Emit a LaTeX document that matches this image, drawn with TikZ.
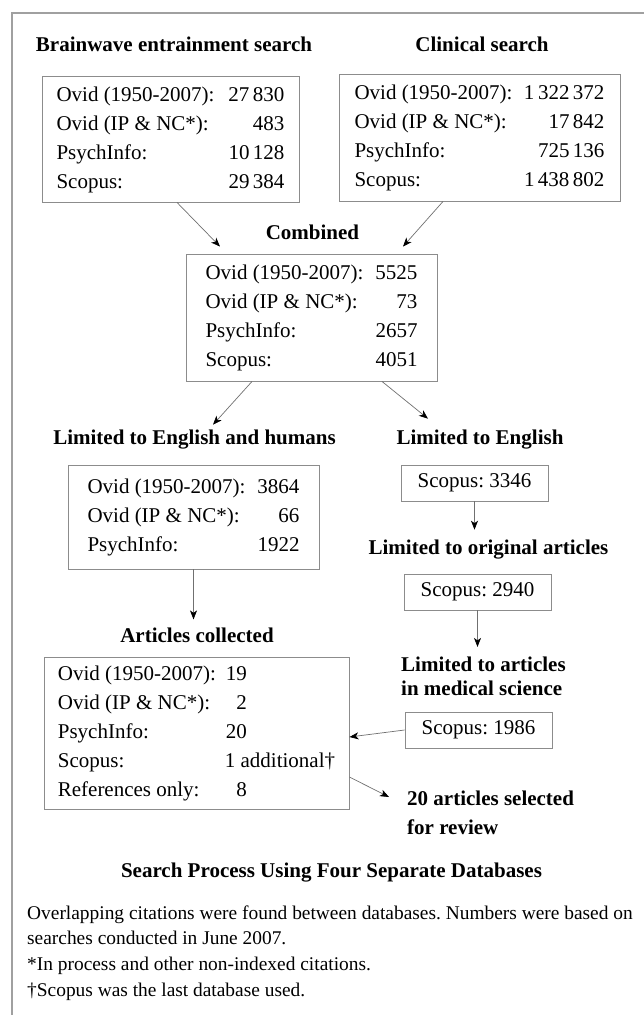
\documentclass[tikz,border=0pt]{standalone}
\usepackage{fontspec}
\setmainfont{Liberation Serif}
\usetikzlibrary{arrows.meta}
\frenchspacing

\begin{document}
\begin{tikzpicture}[x=1pt,y=-1pt,
  dbbox/.style={draw=boxgray,line width=0.9pt,inner sep=0pt,font=\fontsize{21}{29}\selectfont},
  head/.style={font=\fontsize{21}{29}\selectfont\bfseries,inner sep=2pt},
  arr/.style={draw=linegray,line width=0.7pt,-{Stealth[length=9pt,width=7pt,inset=2.5pt,color=black]}}]
\definecolor{boxgray}{HTML}{8C8C8C}
\definecolor{linegray}{HTML}{707070}
\definecolor{framegray}{HTML}{A0A0A0}
\useasboundingbox (0,0) rectangle (644,1015);
\draw[framegray,line width=1.2pt] (12,1015) -- (12,13) -- (644,13);

\node[head] (bwh) at (174,44) {Brainwave entrainment search};
\node[head] (clh) at (482,44) {Clinical search};
\node[dbbox,minimum width=257,minimum height=126] (bw) at (170.5,139)
  {\begin{tabular*}{228pt}{@{}l@{\extracolsep{\fill}}r@{}}
   Ovid (1950-2007): & 27\,830\\ Ovid (IP \& NC*): & 483\\
   PsychInfo: & 10\,128\\ Scopus: & 29\,384
   \end{tabular*}};
\node[dbbox,minimum width=281,minimum height=127] (cl) at (479.5,137.5)
  {\begin{tabular*}{250pt}{@{}l@{\extracolsep{\fill}}r@{}}
   Ovid (1950-2007): & 1\,322\,372\\ Ovid (IP \& NC*): & 17\,842\\
   PsychInfo: & 725\,136\\ Scopus: & 1\,438\,802
   \end{tabular*}};

\node[head] (cbh) at (312.5,232) {Combined};
\node[dbbox,minimum width=251,minimum height=127] (comb) at (311.5,317.5)
  {\begin{tabular*}{212pt}{@{}l@{\extracolsep{\fill}}r@{}}
   Ovid (1950-2007): & 5525\\ Ovid (IP \& NC*): & 73\\
   PsychInfo: & 2657\\ Scopus: & 4051
   \end{tabular*}\hspace{11pt}};

\node[head] (eh) at (194.5,440) {Limited to English and humans};
\node[head] (le) at (480,440) {Limited to English};
\node[dbbox,minimum width=251,minimum height=104] (lh) at (193.5,517)
  {\begin{tabular*}{212pt}{@{}l@{\extracolsep{\fill}}r@{}}
   Ovid (1950-2007): & 3864\\ Ovid (IP \& NC*): & 66\\
   PsychInfo: & 1922
   \end{tabular*}\hspace{15pt}};

\foreach \nm/\val/\x/\y in {s3346/3346/474.5/483,s2940/2940/477.5/592,s1986/1986/478.5/730}
  {\node[dbbox,minimum width=147,minimum height=36] (\nm) at (\x,\y) {Scopus: \val};}

\node[head] (lo) at (488.5,550) {Limited to original articles};
\node[head] (ac) at (197,635) {Articles collected};
\node[head,anchor=west,align=left,font=\fontsize{21}{24}\selectfont\bfseries] (lm) at (399,676.5)
  {Limited to articles\\in medical science};
\node[dbbox,minimum width=305,minimum height=152] (col) at (196.5,733)
  {\begin{tabular}{@{}l@{\hspace{9pt}}l@{}}
   Ovid (1950-2007): & \makebox[22pt][r]{19}\\
   Ovid (IP \& NC*): & \makebox[22pt][r]{2}\\
   PsychInfo: & \makebox[22pt][r]{20}\\
   Scopus: & 1 additional\textdagger\\
   References only: & \makebox[22pt][r]{8}
   \end{tabular}};
\node[head,anchor=west,align=left] (ar) at (405,813) {20 articles selected\\for review};

\node[head] (sp) at (331.5,873) {Search Process Using Four Separate Databases};
\node[anchor=west,align=left,inner sep=2pt,font=\fontsize{19.4}{25.7}\selectfont] (nt) at (25,953)
  {Overlapping citations were found between databases. Numbers were based on\\
   searches conducted in June 2007.\\
   *In process and other non-indexed citations.\\
   \textdagger Scopus was the last database used.};

\draw[arr] ([xshift=6.5pt]bw.south) -- ([xshift=-91.5pt,yshift=7pt]comb.north);
\draw[arr] ([xshift=-36.5pt]cl.south) -- ([xshift=91.5pt,yshift=7pt]comb.north);
\draw[arr] ([xshift=-59.5pt]comb.south) -- ([xshift=18.5pt,yshift=3.5pt]eh.north);
\draw[arr] ([xshift=70.5pt]comb.south) -- ([xshift=-52pt,yshift=9.5pt]le.north);
\draw[arr] (s3346.south) -- ([yshift=8.5pt]s3346.south |- lo.north);
\draw[arr] (s2940.south) -- ([yshift=8pt]s2940.south |- lm.north);
\draw[arr] (lh.south) -- ([yshift=6pt]lh.south |- ac.north);
\draw[arr] (s1986.west) -- ([yshift=-4pt]col.east);
\draw[arr] ([yshift=-44pt]col.east) -- ([xshift=-16pt,yshift=16pt]ar.west);
\end{tikzpicture}
\end{document}
